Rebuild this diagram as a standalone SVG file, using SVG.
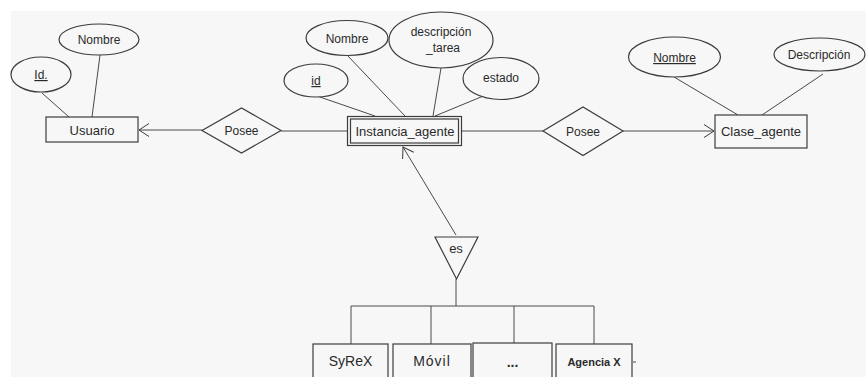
<svg xmlns="http://www.w3.org/2000/svg" width="866" height="377" viewBox="0 0 866 377">
<defs>
<style>
.shape{fill:#f7f7f7;stroke:#3c3c3c;stroke-width:1.2}
.ln{fill:none;stroke:#4a4a4a;stroke-width:1}
text{font-family:"Liberation Sans",Arial,sans-serif;fill:#2a2a2a;text-anchor:middle}
.t12{font-size:12px}
.t13{font-size:13px}
.t14{font-size:14px}
.u{text-decoration:underline}
</style>
<marker id="arr" markerUnits="userSpaceOnUse" viewBox="-11 -8 12 16" refX="0" refY="0" markerWidth="12" markerHeight="16" orient="auto">
<path d="M-10,-6.5 L0,0 L-10,6.5" fill="none" stroke="#3c3c3c" stroke-width="1"/>
</marker>
</defs>
<rect x="0" y="0" width="866" height="377" fill="#ffffff"/>
<rect x="11" y="11" width="855" height="366" fill="#f7f7f7"/>

<g id="connectors">
<line class="ln" x1="42" y1="93" x2="69" y2="117"/>
<line class="ln" x1="100" y1="55" x2="92" y2="117"/>
<line class="ln" x1="202" y1="130" x2="139" y2="130" marker-end="url(#arr)"/>
<line class="ln" x1="281" y1="131" x2="347" y2="131"/>
<line class="ln" x1="462" y1="131" x2="543" y2="131"/>
<line class="ln" x1="623" y1="131" x2="714" y2="131" marker-end="url(#arr)"/>
<line class="ln" x1="317" y1="96" x2="375" y2="116"/>
<line class="ln" x1="347" y1="55" x2="405" y2="116"/>
<line class="ln" x1="441" y1="68" x2="433" y2="116"/>
<line class="ln" x1="493" y1="92" x2="435" y2="116"/>
<line class="ln" x1="674" y1="77" x2="738" y2="115"/>
<line class="ln" x1="823" y1="74" x2="762" y2="115"/>
<line class="ln" x1="456" y1="235" x2="403" y2="147" marker-end="url(#arr)"/>
<line class="ln" x1="456" y1="279" x2="456" y2="306"/>
<line class="ln" x1="351" y1="306" x2="594" y2="306"/>
<line class="ln" x1="351" y1="306" x2="351" y2="344"/>
<line class="ln" x1="431" y1="306" x2="431" y2="344"/>
<line class="ln" x1="514" y1="306" x2="514" y2="343"/>
<line class="ln" x1="594" y1="306" x2="594" y2="344"/>
<line class="ln" x1="633" y1="362" x2="636" y2="362"/>
</g>

<g id="usuario">
<rect class="shape" x="46" y="117" width="92" height="25"/>
<text class="t13" x="92" y="134.5">Usuario</text>
</g>
<g id="usuario_id">
<ellipse class="shape" cx="41" cy="74.5" rx="30" ry="17.5"/>
<text class="t12 u" x="41" y="79">Id.</text>
</g>
<g id="usuario_nombre">
<ellipse class="shape" cx="99" cy="39.5" rx="40" ry="15.5"/>
<text class="t12" x="99" y="44">Nombre</text>
</g>
<g id="posee_1">
<polygon class="shape" points="202,130.5 241.5,108 281,130.5 241.5,153"/>
<text class="t12" x="241.5" y="135">Posee</text>
</g>
<g id="instancia_agente">
<rect class="shape" x="347.5" y="116.5" width="114" height="29"/>
<rect class="shape" x="350.5" y="119" width="108" height="24"/>
<text class="t13" x="405" y="135.5">Instancia_agente</text>
</g>
<g id="instancia_id">
<ellipse class="shape" cx="316" cy="80.5" rx="32" ry="16.5"/>
<text class="t12 u" x="316" y="85">id</text>
</g>
<g id="instancia_nombre">
<ellipse class="shape" cx="347" cy="38" rx="41" ry="17.5"/>
<text class="t12" x="347" y="43">Nombre</text>
</g>
<g id="instancia_descripcion">
<ellipse class="shape" cx="441" cy="40" rx="52" ry="28"/>
<text class="t12" x="441" y="36">descripción</text>
<text class="t12" x="443" y="52">_tarea</text>
</g>
<g id="instancia_estado">
<ellipse class="shape" cx="501" cy="78.5" rx="38" ry="21"/>
<text class="t12" x="501" y="82">estado</text>
</g>
<g id="posee_2">
<polygon class="shape" points="543,131 583,107 623,131 583,155.5"/>
<text class="t12" x="583" y="136">Posee</text>
</g>
<g id="clase_agente">
<rect class="shape" x="715" y="115" width="92" height="33"/>
<text class="t13" x="761" y="136">Clase_agente</text>
</g>
<g id="clase_nombre">
<ellipse class="shape" cx="674.5" cy="57" rx="46" ry="20"/>
<text class="t12 u" x="674.5" y="62">Nombre</text>
</g>
<g id="clase_descripcion">
<ellipse class="shape" cx="819.5" cy="54.5" rx="45.5" ry="16.5"/>
<text class="t12" x="819" y="59">Descripción</text>
</g>
<g id="es">
<polygon class="shape" points="435,237 478,237 456.5,279"/>
<text class="t13" x="456" y="253">es</text>
</g>
<g id="syrex">
<rect class="shape" x="313" y="344" width="75" height="40"/>
<text class="t14" x="350.5" y="366">SyReX</text>
</g>
<g id="movil">
<rect class="shape" x="393" y="344" width="78" height="40"/>
<text class="t14" x="432" y="366" letter-spacing="1">Móvil</text>
</g>
<g id="otros">
<rect class="shape" x="473" y="343" width="79" height="41"/>
<text class="t14" x="512.5" y="367" font-weight="bold">...</text>
</g>
<g id="agencia_x">
<rect class="shape" x="556" y="344" width="76" height="40"/>
<text x="594" y="366" font-size="11px" font-weight="bold">Agencia X</text>
</g>
</svg>
